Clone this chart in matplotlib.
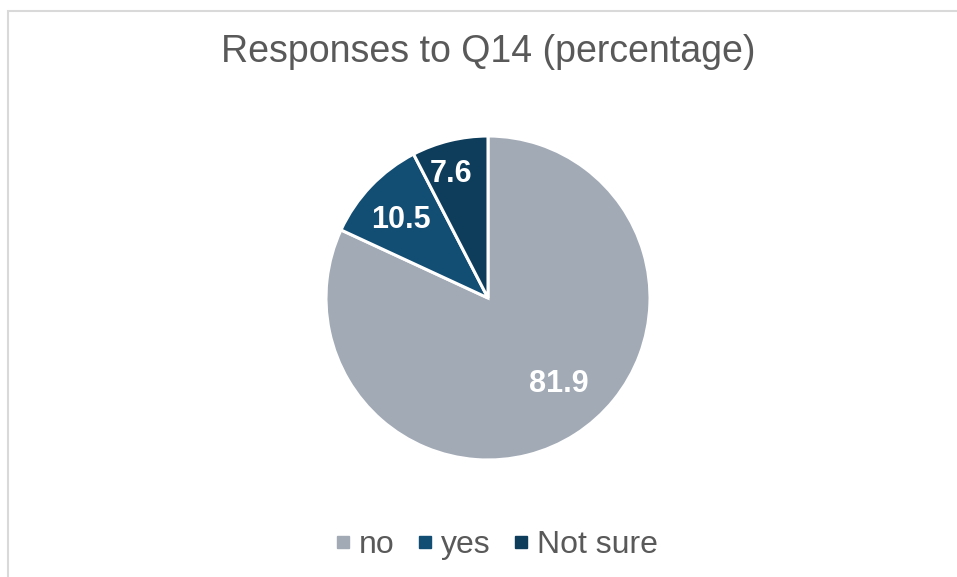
import numpy as np
import matplotlib.pyplot as plt
from matplotlib.lines import Line2D
from matplotlib.patches import Rectangle

plt.rcParams['font.family'] = ['Liberation Sans', 'DejaVu Sans']

# survey answers, percent
labels = ['no', 'yes', 'Not sure']
values = [81.9, 10.5, 7.6]
colors = ['#A2AAB6', '#124D73', '#0E3D5C']
label_dist = [0.69, 0.72, 0.80]
label_shift = [7, 2, 3]   # degrees, nudges the value text inside its slice

W, H = 957, 577
fig = plt.figure(figsize=(W / 100, H / 100), dpi=100)

# light chart-area frame
fig.patches.append(Rectangle((8 / W, -0.1), 1.2, 1 - 11 / H + 0.1,
                             transform=fig.transFigure, fill=False,
                             edgecolor='#D9D9D9', linewidth=1.5))

cx, cy, r = 488, 298, 162
ax = fig.add_axes([(cx - r) / W, (H - cy - r) / H, 2 * r / W, 2 * r / H])
wedges, _ = ax.pie(values, colors=colors, startangle=90, counterclock=False,
                   wedgeprops=dict(edgecolor='white', linewidth=2.2))
ax.set_xlim(-1, 1)
ax.set_ylim(-1, 1)
ax.set_aspect('equal')
ax.axis('off')

for w, v, d, s in zip(wedges, values, label_dist, label_shift):
    ang = np.deg2rad((w.theta1 + w.theta2) / 2 + s)
    ax.text(d * np.cos(ang), d * np.sin(ang), f'{v:.1f}', ha='center',
            va='center', color='white', fontsize=22, fontweight='bold')

fig.text(cx / W, 1 - 52 / H, 'Responses to Q14 (percentage)', ha='center',
         va='center', fontsize=27, color='#595959')

handles = [Line2D([], [], marker='s', linestyle='none', markersize=9,
                  markerfacecolor=c, markeredgecolor=c) for c in colors]
fig.legend(handles, labels, loc='center', bbox_to_anchor=(494 / W, 1 - 545 / H),
           ncol=3, frameon=False, fontsize=23, labelcolor='#595959',
           handletextpad=0.1, columnspacing=0.55, handlelength=0.8)

fig.savefig('out.png', dpi=100, facecolor='white')
